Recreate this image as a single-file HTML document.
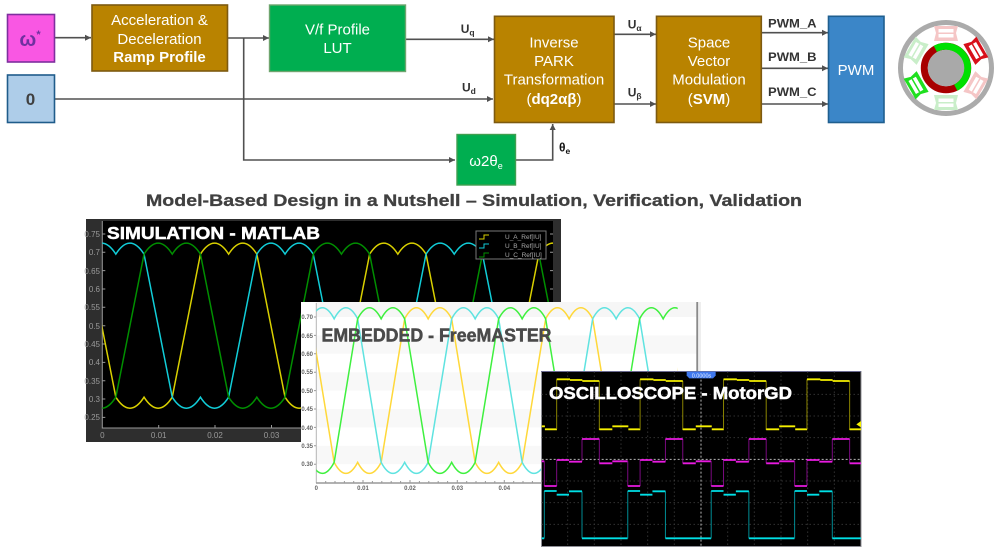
<!DOCTYPE html>
<html><head><meta charset="utf-8"><style>
html,body{margin:0;padding:0;background:#fff}
svg{display:block;font-family:"Liberation Sans",sans-serif;filter:blur(.35px)}
.w{fill:#fff;font-size:15px;text-anchor:middle}
.l{fill:#333;font-size:12px;font-weight:bold}
.mt{fill:#9a9a9a;font-size:8px}
.ft{fill:#666;font-size:6px;font-weight:bold}
.conn{stroke:#505050;stroke-width:1.6;fill:none}
.np{vector-effect:non-scaling-stroke}
</style></head><body>
<svg width="999" height="549" viewBox="0 0 999 549" xmlns="http://www.w3.org/2000/svg">
<defs>
<marker id="a" markerUnits="userSpaceOnUse" markerWidth="7" markerHeight="8" refX="6" refY="4" orient="auto"><path d="M0,1 L6,4 L0,7 Z" fill="#505050"/></marker>
<path id="wave" class="np" fill="none" d="M0,5 Q2.5,-55 5,5 Q7.5,-55 10,5 L15,395 Q17.5,455 20,395 Q22.5,455 25,395 L30,5"/>
<clipPath id="cm"><rect x="102.3" y="221" width="450.7" height="207"/></clipPath>
<clipPath id="cf"><rect x="316.3" y="303" width="361.4" height="180"/></clipPath>
<clipPath id="cs"><rect x="20" y="20" width="958" height="525"/></clipPath>
<g id="py"><path class="np" stroke="#8a8400" stroke-width="1" fill="none" d="M65,192V43M193,48V195"/><path class="np" stroke="#f5f000" stroke-width="1.8" fill="none" d="M65,43H105M105,45H142M142,48H193M193,193H232M232,184H280M280,193H316"/></g>
<g id="pm"><path class="np" stroke="#7a0a80" stroke-width="1" fill="none" d="M28,288V363M65,363V285M141,290V222M193,222V295"/><path class="np" stroke="#e81ae0" stroke-width="1.8" fill="none" d="M28,363H65M65,285H102M102,290H141M141,222H193M193,295H232M232,289H278"/></g>
<g id="pc"><path class="np" stroke="#008d95" stroke-width="1" fill="none" d="M28,520V378M141,379V520"/><path class="np" stroke="#00e0e6" stroke-width="1.8" fill="none" d="M28,378H65M65,389H102M102,379H141M141,520H278"/></g>
<g id="pole"><path d="M-12,-42 L12,-42 L10,-35 L12,-27 L-12,-27 L-10,-35 Z"/><rect x="-7.500" y="-39" width="15" height="8.500" fill="#fff"/><rect x="-7.500" y="-35.500" width="15" height="1.500"/></g>
</defs>

<!-- connectors -->
<path class="conn" d="M55,37.7H91" marker-end="url(#a)"/>
<path class="conn" d="M228,38H269" marker-end="url(#a)"/>
<path class="conn" d="M243.7,38V160H455" marker-end="url(#a)"/>
<path class="conn" d="M406,39.3H494" marker-end="url(#a)"/>
<path class="conn" d="M55,99H493" marker-end="url(#a)"/>
<path class="conn" d="M515,160H552.7V124" marker-end="url(#a)"/>
<path class="conn" d="M614,34.3H656" marker-end="url(#a)"/>
<path class="conn" d="M614,104H656" marker-end="url(#a)"/>
<path class="conn" d="M761,32.7H828" marker-end="url(#a)"/>
<path class="conn" d="M761,68.3H828" marker-end="url(#a)"/>
<path class="conn" d="M761,104H828" marker-end="url(#a)"/>

<!-- blocks -->
<rect x="7.500" y="14.500" width="47" height="47.500" fill="#f957e3" stroke="#7e2f9e" stroke-width="1.600"/>
<text x="30" y="46" font-size="20" font-weight="bold" fill="#7030a0" text-anchor="middle">ω<tspan font-size="11" dy="-8">*</tspan></text>
<rect x="7.500" y="75" width="47" height="47.500" fill="#aecde9" stroke="#1f5c8b" stroke-width="1.600"/>
<text x="30.500" y="105" font-size="17" font-weight="bold" fill="#404040" text-anchor="middle">0</text>

<rect x="92" y="5" width="135.500" height="66" fill="#b98300" stroke="#7d5a10" stroke-width="1.600"/>
<text class="w" x="159.500" y="25">Acceleration &amp;</text>
<text class="w" x="159.500" y="44">Deceleration</text>
<text class="w" x="159.500" y="62" font-weight="bold">Ramp Profile</text>

<rect x="269.500" y="5" width="136" height="66.500" fill="#00ae50" stroke="#6ea56e" stroke-width="1.400"/>
<text class="w" x="337.500" y="34.500">V/f Profile</text>
<text class="w" x="337.500" y="53">LUT</text>

<rect x="494.500" y="16.300" width="119.500" height="106.200" fill="#b98300" stroke="#7d5a10" stroke-width="1.600"/>
<text class="w" x="554" y="47.500">Inverse</text>
<text class="w" x="554" y="66">PARK</text>
<text class="w" x="554" y="84.500">Transformation</text>
<text class="w" x="554" y="104">(<tspan font-weight="bold">dq2αβ</tspan>)</text>

<rect x="656.500" y="16.300" width="104.800" height="106.200" fill="#b98300" stroke="#7d5a10" stroke-width="1.600"/>
<text class="w" x="709" y="47.500">Space</text>
<text class="w" x="709" y="66">Vector</text>
<text class="w" x="709" y="84.500">Modulation</text>
<text class="w" x="709" y="104">(<tspan font-weight="bold">SVM</tspan>)</text>

<rect x="828.500" y="16.300" width="55.500" height="106.200" fill="#3b86c8" stroke="#1f5f8f" stroke-width="1.600"/>
<text class="w" x="856" y="75">PWM</text>

<rect x="457" y="134.500" width="58.500" height="50.500" fill="#00ae50" stroke="#3f9f4f" stroke-width="1.400"/>
<text class="w" x="486" y="166" font-size="15">ω2θ<tspan font-size="9" dy="3">e</tspan></text>

<!-- labels -->
<text class="l" x="460.700" y="33">U<tspan font-size="8.500" dy="2.500">q</tspan></text>
<text class="l" x="462" y="91.500">U<tspan font-size="8.500" dy="2.500">d</tspan></text>
<text class="l" x="627.700" y="28.500">U<tspan font-size="8.500" dy="2.500">α</tspan></text>
<text class="l" x="627.700" y="96.500">U<tspan font-size="8.500" dy="2.500">β</tspan></text>
<text class="l" x="768" y="27.300" textLength="48.500" lengthAdjust="spacingAndGlyphs">PWM_A</text>
<text class="l" x="768" y="61" textLength="48.500" lengthAdjust="spacingAndGlyphs">PWM_B</text>
<text class="l" x="768" y="96" textLength="48.500" lengthAdjust="spacingAndGlyphs">PWM_C</text>
<text x="559" y="151.500" font-size="12" font-weight="bold" fill="#111">θ<tspan font-size="8.500" dy="2.500">e</tspan></text>

<!-- motor -->
<g transform="translate(946,68)">
<circle r="45.500" fill="#fff" stroke="#ababab" stroke-width="5"/>
<use href="#pole" fill="#f5c6c6"/>
<use href="#pole" fill="#d80f1a" transform="rotate(60)"/>
<use href="#pole" fill="#f5c6c6" transform="rotate(120)"/>
<use href="#pole" fill="#c9eec9" transform="rotate(180)"/>
<use href="#pole" fill="#1fe01f" transform="rotate(240)"/>
<use href="#pole" fill="#c9eec9" transform="rotate(300)"/>
<circle r="21.700" fill="none" stroke="#a80000" stroke-width="7"/>
<path d="M-10.700,-19.200 A21.700,21.700 0 0 1 9.800,19.700" fill="none" stroke="#00e000" stroke-width="7"/>
<circle r="18.300" fill="#a9a9a9"/>
</g>

<!-- title -->
<text x="146" y="206" font-size="17" font-weight="bold" fill="#404040" stroke="#404040" stroke-width=".3" textLength="656" lengthAdjust="spacingAndGlyphs">Model-Based Design in a Nutshell – Simulation, Verification, Validation</text>

<!-- MATLAB panel -->
<rect x="86" y="219" width="475" height="223" fill="#2e2e2e"/>
<rect x="102.300" y="221" width="450.700" height="207" fill="#000"/>
<path d="M102.300,221V428H553" stroke="#999" stroke-width="1" fill="none"/>
<path d="M102.300,234h3M102.300,252.300h3M102.300,270.600h3M102.300,289h3M102.300,307.300h3M102.300,325.700h3M102.300,344h3M102.300,362.400h3M102.300,380.700h3M102.300,399h3M102.300,417.400h3M158.700,428v-3M215,428v-3M271.500,428v-3M553,234h-3M553,252.300h-3M553,270.600h-3M553,289h-3" stroke="#999" stroke-width="1" fill="none"/>
<g class="mt" text-anchor="end">
<text x="100" y="237">0.75</text><text x="100" y="255">0.7</text><text x="100" y="274">0.65</text><text x="100" y="292">0.6</text><text x="100" y="310">0.55</text><text x="100" y="329">0.5</text><text x="100" y="347">0.45</text><text x="100" y="365">0.4</text><text x="100" y="384">0.35</text><text x="100" y="402">0.3</text><text x="100" y="420">0.25</text>
</g>
<g class="mt" text-anchor="middle"><text x="102.300" y="438">0</text><text x="158.700" y="438">0.01</text><text x="215" y="438">0.02</text><text x="271.500" y="438">0.03</text></g>
<g clip-path="url(#cm)"><g transform="matrix(5.64 0 0 .3668 102.3 252.3)" fill="none" stroke-width="1.500">
<g stroke="#d9d000"><use href="#wave" x="-12.6"/><use href="#wave" x="17.4"/><use href="#wave" x="47.4"/><use href="#wave" x="77.4"/></g>
<g stroke="#11cdd8"><use href="#wave" x="-32.6"/><use href="#wave" x="-2.6"/><use href="#wave" x="27.4"/><use href="#wave" x="57.4"/></g>
<g stroke="#008f00"><use href="#wave" x="-22.6"/><use href="#wave" x="7.4"/><use href="#wave" x="37.4"/><use href="#wave" x="67.4"/></g>
</g></g>
<rect x="476" y="231" width="70" height="28" fill="#000" stroke="#777" stroke-width="1"/>
<path d="M479,239h5v-4h5" stroke="#d9d000" fill="none"/><path d="M479,248h5v-4h5" stroke="#11cdd8" fill="none"/><path d="M479,257h5v-4h5" stroke="#008f00" fill="none"/>
<g font-size="6.500" fill="#a8a8a8"><text x="505" y="239">U_A_Ref[IU]</text><text x="505" y="248">U_B_Ref[IU]</text><text x="505" y="257">U_C_Ref[IU]</text></g>
<text x="107" y="239" font-size="17.500" font-weight="bold" fill="#fff" stroke="#fff" stroke-width=".5" textLength="213" lengthAdjust="spacingAndGlyphs">SIMULATION - MATLAB</text>

<!-- FreeMASTER panel -->
<rect x="301" y="302" width="400" height="190.500" fill="#fff"/>
<rect x="316" y="302" width="381" height="15" fill="#f6f6f6"/>
<rect x="316" y="335.400" width="381" height="18.400" fill="#f8f8f8"/>
<rect x="316" y="372.200" width="381" height="18.400" fill="#f8f8f8"/>
<rect x="316" y="409" width="381" height="18.400" fill="#f8f8f8"/>
<rect x="316" y="445.800" width="381" height="18.400" fill="#f8f8f8"/>
<rect x="698" y="302" width="3" height="70" fill="#eee"/>
<rect x="696.300" y="302" width="1.800" height="70" fill="#8a8a8a"/>
<path d="M316.300,303V483" stroke="#b5b5b5" stroke-width="1" fill="none"/>
<path d="M316,483H700" stroke="#999" stroke-width="1.600" fill="none"/>
<path d="M314,317h2M314,335.400h2M314,353.800h2M314,372.200h2M314,390.600h2M314,409h2M314,427.400h2M314,445.800h2M314,464.200h2M363,483v-3M410,483v-3M457.300,483v-3M504.300,483v-3M325.700,483v-2M335,483v-2M344.400,483v-2M353.700,483v-2M372.400,483v-2M381.800,483v-2M391.200,483v-2M400.600,483v-2M419.400,483v-2M428.800,483v-2M438.200,483v-2M447.600,483v-2M466.700,483v-2M476,483v-2M485.400,483v-2M494.800,483v-2M513.700,483v-2M523,483v-2M532.400,483v-2" stroke="#999" fill="none"/>
<g class="ft" text-anchor="end"><text x="313" y="319">0.70</text><text x="313" y="338">0.65</text><text x="313" y="356">0.60</text><text x="313" y="374">0.55</text><text x="313" y="393">0.50</text><text x="313" y="411">0.45</text><text x="313" y="430">0.40</text><text x="313" y="448">0.35</text><text x="313" y="466">0.30</text></g>
<g class="ft" text-anchor="middle"><text x="316.300" y="490">0</text><text x="363" y="490">0.01</text><text x="410" y="490">0.02</text><text x="457.300" y="490">0.03</text><text x="504.300" y="490">0.04</text></g>
<g clip-path="url(#cf)"><g transform="matrix(4.7 0 0 .368 316.3 317)" fill="none" stroke-width="1.500">
<g stroke="#ffd83a"><use href="#wave" x="-11.2"/><use href="#wave" x="18.8"/><use href="#wave" x="48.8"/></g>
<g stroke="#5fe3e0"><use href="#wave" x="-31.2"/><use href="#wave" x="-1.2"/><use href="#wave" x="28.8"/><use href="#wave" x="58.8"/></g>
<g stroke="#3ff03f"><use href="#wave" x="-21.2"/><use href="#wave" x="8.8"/><use href="#wave" x="38.8"/><use href="#wave" x="68.8"/></g>
</g></g>
<text x="321.500" y="341.700" font-size="18" font-weight="bold" fill="#4a4a4a" stroke="#4a4a4a" stroke-width=".5" textLength="230" lengthAdjust="spacingAndGlyphs">EMBEDDED - FreeMASTER</text>

<!-- Oscilloscope panel -->
<rect x="541.500" y="371.500" width="319.500" height="175" fill="#000" stroke="#8f8f96" stroke-width="1"/>
<path d="M541,371.500H861" stroke="#6a6a90" stroke-width="1" fill="none"/>
<g transform="translate(535,365) scale(.33333)">
<path class="np" stroke="#4a4a4a" stroke-width="1" stroke-dasharray="1 3" fill="none" d="M98,20V545M178,20V545M258,20V545M338,20V545M418,20V545M578,20V545M658,20V545M738,20V545M818,20V545M898,20V545M20,88H978M20,153H978M20,218H978M20,348H978M20,413H978M20,478H978"/>
<path class="np" stroke="#b8b8b8" stroke-width="1" stroke-dasharray="2 2" fill="none" d="M20,283H978M498,20V545"/>
<g clip-path="url(#cs)">
<use href="#py" x="-250.3"/><use href="#py"/><use href="#py" x="250.3"/><use href="#py" x="500.6"/><use href="#py" x="750.9"/>
<use href="#pm" x="-250.3"/><use href="#pm"/><use href="#pm" x="250.3"/><use href="#pm" x="500.6"/><use href="#pm" x="750.9"/>
<use href="#pc" x="-250.3"/><use href="#pc"/><use href="#pc" x="250.3"/><use href="#pc" x="500.6"/><use href="#pc" x="750.9"/>
</g>
<path d="M978,168 L964,178 L978,187 Z" fill="#f5f000"/>
<path d="M455,20H542V32L534,40H463L455,32Z" fill="#3f78ee"/>
</g>
<text x="701.500" y="377.500" font-size="5.500" fill="#e8f0ff" text-anchor="middle">0.0000s</text>
<text x="549" y="399" font-size="17.500" font-weight="bold" fill="#fff" stroke="#fff" stroke-width=".5" textLength="243" lengthAdjust="spacingAndGlyphs">OSCILLOSCOPE - MotorGD</text>
</svg>
</body></html>
